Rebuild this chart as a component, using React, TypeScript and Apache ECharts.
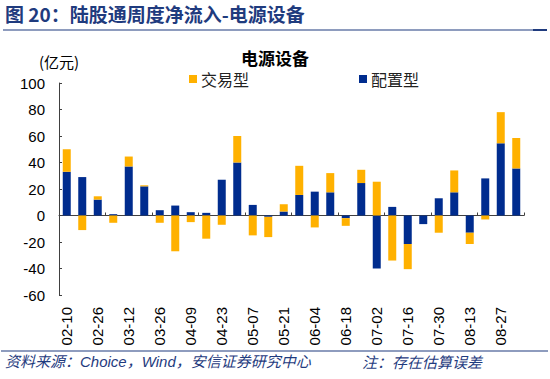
import React, { useEffect, useRef } from "react";
import * as echarts from "echarts";

const categories = [
  "02-10", "02-19", "02-26", "03-05", "03-12", "03-19", "03-26", "04-02", "04-09", "04-16",
  "04-23", "04-30", "05-07", "05-14", "05-21", "05-28", "06-04", "06-11", "06-18", "06-25",
  "07-02", "07-09", "07-16", "07-23", "07-30", "08-06", "08-13", "08-20", "08-27", "09-03",
];
const allocationValues = [
  33, 29, 12, 1, 37, 22, 4, 7.5, 2.5, 2,
  27, 40, 8, -1, 3, 15.5, 18, 17.5, -2, 24.5,
  -40, 6.5, -21.5, -6.5, 13, 17.5, -13, 28, 54.5, 35.5,
];
const tradingValues = [
  17, -11, 2.5, -5.5, 7.5, 0.8, -5.5, -27, -5, -17.5,
  -7, 20, -15, -15.3, 5.5, 22, -9, 14.5, -5.8, 10,
  25.5, -34, -19, 0, -13, 16.5, -8.5, -3, 23.5, 23,
];
const yTicks = { min: -60, max: 100, interval: 20 };

const BLUE = "#002C8E";
const ORANGE = "#FFB100";
const HEAD = "#1F3B7E";
const AXIS = "#404040";

export default function App() {
  const ref = useRef<HTMLDivElement>(null);
  useEffect(() => {
    if (!ref.current) return;
    const chart = echarts.init(ref.current, undefined, { renderer: "svg" });
    chart.setOption({
      animation: false,
      textStyle: { fontFamily: "Liberation Sans, Arial, Noto Sans CJK SC" },
      title: {
        text: "电源设备",
        left: "center",
        top: 44,
        textStyle: { fontSize: 17, fontWeight: "bold", color: "#000", fontFamily: "Noto Sans CJK SC" },
      },
      legend: {
        data: ["交易型", "配置型"],
        left: 184,
        top: 66,
        icon: "rect",
        itemWidth: 8,
        itemHeight: 8,
        itemGap: 110,
        textStyle: { fontSize: 16, color: "#222", fontFamily: "Noto Sans CJK SC", padding: [0, 0, 0, -1] },
      },
      grid: { left: 59, right: 26, top: 83, bottom: 84, containLabel: false },
      xAxis: [
        {
          type: "category",
          data: categories,
          position: "bottom",
          axisLine: { onZero: true, lineStyle: { color: AXIS, width: 1 } },
          axisTick: { show: true, inside: true, length: 3, lineStyle: { color: AXIS } },
          axisLabel: { show: false },
          splitLine: { show: false },
        },
        {
          type: "category",
          data: categories,
          position: "bottom",
          axisLine: { show: false, onZero: false },
          axisTick: { show: false },
          axisLabel: {
            interval: 1,
            rotate: 90,
            margin: 12,
            fontSize: 15,
            color: "#000",
            fontFamily: "Liberation Sans",
          },
          splitLine: { show: false },
        },
      ],
      yAxis: {
        type: "value",
        min: yTicks.min,
        max: yTicks.max,
        interval: yTicks.interval,
        axisLine: { show: true, lineStyle: { color: AXIS, width: 1 } },
        axisTick: { show: true, inside: true, length: 3, lineStyle: { color: AXIS } },
        axisLabel: { fontSize: 15, color: "#000", margin: 14, fontFamily: "Liberation Sans" },
        splitLine: { show: false },
      },
      series: [
        {
          name: "配置型",
          type: "bar",
          stack: "total",
          xAxisIndex: 0,
          barWidth: 8,
          itemStyle: { color: BLUE },
          data: allocationValues,
        },
        {
          name: "交易型",
          type: "bar",
          stack: "total",
          xAxisIndex: 0,
          barWidth: 8,
          itemStyle: { color: ORANGE },
          data: tradingValues,
        },
      ],
      graphic: [
        {
          type: "text",
          left: 5,
          top: 4,
          style: {
            text: "图 20：陆股通周度净流入-电源设备",
            fontSize: 19,
            fontWeight: "bold",
            fill: HEAD,
            fontFamily: "Noto Sans CJK SC",
          },
        },
        {
          type: "line",
          shape: { x1: 3, y1: 30, x2: 547, y2: 30 },
          style: { stroke: HEAD, lineWidth: 1.2 },
        },
        {
          type: "line",
          shape: { x1: 533, y1: 30, x2: 547, y2: 30 },
          style: { stroke: HEAD, lineWidth: 2 },
        },
        {
          type: "text",
          left: 39,
          top: 54,
          style: { text: "(亿元)", fontSize: 15, fill: "#000", fontFamily: "Noto Sans CJK SC" },
        },
        {
          type: "line",
          shape: { x1: 1, y1: 351, x2: 548, y2: 351 },
          style: { stroke: HEAD, lineWidth: 1.2 },
        },
        {
          type: "text",
          left: 5,
          top: 354,
          style: {
            text: "资料来源：Choice，Wind，安信证券研究中心",
            fontSize: 15,
            fontStyle: "italic",
            fill: HEAD,
            fontFamily: "Liberation Sans, Noto Sans CJK SC",
          },
        },
        {
          type: "text",
          left: 362,
          top: 354,
          style: {
            text: "注：存在估算误差",
            fontSize: 15,
            fontStyle: "italic",
            fill: HEAD,
            fontFamily: "Noto Sans CJK SC",
          },
        },
      ],
    });
    return () => chart.dispose();
  }, []);
  return <div ref={ref} style={{ width: 550, height: 379, position: "absolute", left: 0, top: 0 }} />;
}
